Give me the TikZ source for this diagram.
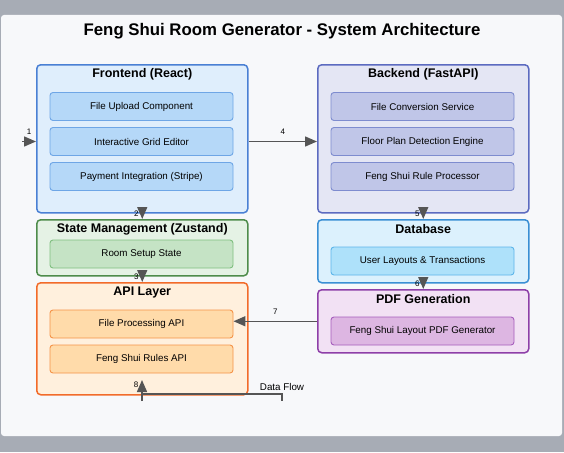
\documentclass[tikz,border=0pt]{standalone}
\usepackage{fontspec}
\setmainfont{Liberation Sans}
\usetikzlibrary{arrows.meta,positioning,calc}
\definecolor{pagebg}{HTML}{A7ACB5}
\definecolor{panelbg}{HTML}{F7F8FA}
\definecolor{flowgray}{HTML}{555555}
\definecolor{feFill}{HTML}{DFEEFC}\definecolor{feLine}{HTML}{4A80D4}
\definecolor{feSub}{HTML}{B5D8F8}\definecolor{feSubLine}{HTML}{6EA6E6}
\definecolor{beFill}{HTML}{E4E6F4}\definecolor{beLine}{HTML}{5C6BC0}
\definecolor{beSub}{HTML}{C0C6E8}\definecolor{beSubLine}{HTML}{7E8CCF}
\definecolor{stFill}{HTML}{E5F2E5}\definecolor{stLine}{HTML}{4E8C4B}
\definecolor{stSub}{HTML}{C5E3C5}\definecolor{stSubLine}{HTML}{80BF80}
\definecolor{apFill}{HTML}{FFF0DD}\definecolor{apLine}{HTML}{F26B2A}
\definecolor{apSub}{HTML}{FFDBAA}\definecolor{apSubLine}{HTML}{F59448}
\definecolor{dbFill}{HTML}{DCF1FD}\definecolor{dbLine}{HTML}{3A8FD4}
\definecolor{dbSub}{HTML}{AEE1FA}\definecolor{dbSubLine}{HTML}{5DB5EA}
\definecolor{pdFill}{HTML}{F2E1F4}\definecolor{pdLine}{HTML}{8E3FA8}
\definecolor{pdSub}{HTML}{DDB6E2}\definecolor{pdSubLine}{HTML}{A65EBD}
\tikzset{
  layer/.style={draw, line width=1.5pt, rounded corners=4pt, anchor=north west,
    inner sep=0pt, minimum width=211pt},
  layertitle/.style={font=\fontsize{12.5}{15}\selectfont\bfseries, inner sep=0pt},
  comp/.style={draw, line width=0.9pt, rounded corners=3pt, inner sep=0pt,
    minimum width=183pt, minimum height=28pt, font=\fontsize{9.8}{11}\selectfont},
  flow/.style={draw=flowgray, line width=1.5pt, -{Triangle[length=12pt,width=10pt]}},
  flowline/.style={draw=flowgray, line width=1.5pt},
  num/.style={font=\fontsize{8}{10}\selectfont, inner sep=0pt}
}
\begin{document}
\begin{tikzpicture}[x=1pt,y=-1pt]
% page and panel
\fill[pagebg] (0,0) rectangle (564,452);
\fill[panelbg, rounded corners=3pt] (1,15) rectangle (562,436);
\useasboundingbox (0,0) rectangle (564,452);
\node[font=\fontsize{16.8}{19}\selectfont\bfseries] (title) at (282,31.5) {Feng Shui Room Generator - System Architecture};

% left column
\node[layer, fill=feFill, draw=feLine, minimum height=148pt] (frontend) at (36,64) {};
\node[layertitle] (frontendT) at ($(frontend.north)+(0,10)$) {Frontend (React)};
\node[comp, fill=feSub, draw=feSubLine] (upload) at (141.5,106.5) {File Upload Component};
\node[comp, fill=feSub, draw=feSubLine] (grid) at (141.5,141.5) {Interactive Grid Editor};
\node[comp, fill=feSub, draw=feSubLine] (payment) at (141.5,176.5) {Payment Integration (Stripe)};

\node[layer, fill=stFill, draw=stLine, minimum height=56pt] (state) at (36,219) {};
\node[layertitle] (stateT) at ($(state.north)+(0,10)$) {State Management (Zustand)};
\node[comp, fill=stSub, draw=stSubLine] (roomstate) at (141.5,254) {Room Setup State};

\node[layer, fill=apFill, draw=apLine, minimum height=112pt] (api) at (36,282) {};
\node[layertitle] (apiT) at ($(api.north)+(0,10)$) {API Layer};
\node[comp, fill=apSub, draw=apSubLine] (fileapi) at (141.5,324) {File Processing API};
\node[comp, fill=apSub, draw=apSubLine] (rulesapi) at (141.5,359) {Feng Shui Rules API};

% right column
\node[layer, fill=beFill, draw=beLine, minimum height=148pt] (backend) at (317,64) {};
\node[layertitle] (backendT) at ($(backend.north)+(0,10)$) {Backend (FastAPI)};
\node[comp, fill=beSub, draw=beSubLine] (convert) at (422.5,106.5) {File Conversion Service};
\node[comp, fill=beSub, draw=beSubLine] (detect) at (422.5,141.5) {Floor Plan Detection Engine};
\node[comp, fill=beSub, draw=beSubLine] (rules) at (422.5,176.5) {Feng Shui Rule Processor};

\node[layer, fill=dbFill, draw=dbLine, minimum height=63pt] (database) at (317,219) {};
\node[layertitle] (databaseT) at ($(database.north)+(0,10)$) {Database};
\node[comp, fill=dbSub, draw=dbSubLine] (layouts) at (422.5,261) {User Layouts \& Transactions};

\node[layer, fill=pdFill, draw=pdLine, minimum height=63pt] (pdf) at (317,289) {};
\node[layertitle] (pdfT) at ($(pdf.north)+(0,10)$) {PDF Generation};
\node[comp, fill=pdSub, draw=pdSubLine] (pdfgen) at (422.5,331) {Feng Shui Layout PDF Generator};

% data flow
\coordinate (entry) at (22,141.5);
\draw[flow] (entry) -- node[num, above=6pt] {1} (frontend.west |- entry);
\draw[flow] (frontend.south) -- node[num, at start, left=3pt] {2} (state.north);
\draw[flow] (state.south) -- node[num, at start, left=3pt] {3} (api.north);
\draw[flow] (frontend.east |- grid) -- node[num, above=6pt] {4} (backend.west |- grid);
\draw[flow] (backend.south) -- node[num, at start, left=3pt] {5} (database.north);
\draw[flow] (database.south) -- node[num, at start, left=3pt] {6} (pdf.north);
\draw[flow] (pdf.west) -- node[num, above=6pt] {7} (pdf.west -| fileapi.east);

\coordinate (legendL) at (142,394);
\coordinate (legendLtick) at (142,401);
\coordinate (legendR) at (282,394);
\coordinate (legendRtick) at (282,401);
\coordinate (flowtip) at (142,380);
\draw[flowline] (legendL) -- (legendR) -- (legendRtick);
\draw[flow] (legendLtick) -- (flowtip) node[num, left=3pt, yshift=-5pt] {8};
\node[font=\fontsize{9.8}{11}\selectfont] (legend) at (282,387) {Data Flow};
\end{tikzpicture}
\end{document}
